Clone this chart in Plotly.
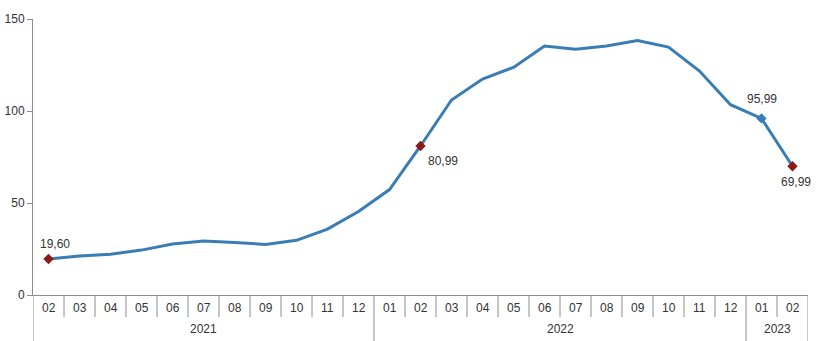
import plotly.graph_objects as go

months = ["02", "03", "04", "05", "06", "07", "08", "09", "10", "11", "12",
          "01", "02", "03", "04", "05", "06", "07", "08", "09", "10", "11", "12",
          "01", "02"]
years = ["2021", "2022", "2023"]
year_counts = [11, 12, 2]
values = [19.60, 21.2, 22.2, 24.4, 27.7, 29.3, 28.6, 27.5, 29.7, 35.8, 45.4,
          57.3, 80.99, 106.0, 117.4, 123.7, 135.3, 133.6, 135.3, 138.3, 134.7,
          121.7, 103.4, 95.99, 69.99]
labeled_idx = [0, 12, 23, 24]
marker_colors = ["#8B1A1A", "#8B1A1A", "#3A7DB5", "#8B1A1A"]
label_shift = [(6, 15), (22, -15), (0, 19), (3, -16)]

line_color = "#3A7DB5"
axis_color = "#8C8C8C"
text_color = "#333333"
font_family = "Liberation Sans, Arial, sans-serif"

x = list(range(len(values)))
fig = go.Figure()
fig.add_trace(go.Scatter(x=x, y=values, mode="lines",
                         line=dict(color=line_color, width=3), hoverinfo="skip"))
fig.add_trace(go.Scatter(x=[x[i] for i in labeled_idx],
                         y=[values[i] for i in labeled_idx], mode="markers",
                         marker=dict(symbol="diamond", size=8, color=marker_colors),
                         hoverinfo="skip"))

annotations = []
for k, i in enumerate(labeled_idx):
    txt = f"{values[i]:.2f}".replace(".", ",")
    dx, dy = label_shift[k]
    annotations.append(dict(x=x[i], y=values[i], xref="x", yref="y", text=txt,
                            showarrow=False, xshift=dx, yshift=dy,
                            font=dict(size=12, color=text_color, family=font_family)))

shapes = []
ph = 276.0
month_bot = -22 / ph
year_bot = -46 / ph
for i, m in enumerate(months):
    annotations.append(dict(x=i, y=-13 / ph, xref="x", yref="paper", text=m,
                            showarrow=False, yanchor="middle",
                            font=dict(size=12, color=text_color, family=font_family)))
boundaries = set()
start = 0
for yr, c in zip(years, year_counts):
    boundaries.add(start)
    mid = start + (c - 1) / 2
    annotations.append(dict(x=mid, y=-34 / ph, xref="x", yref="paper", text=yr,
                            showarrow=False, yanchor="middle",
                            font=dict(size=12, color=text_color, family=font_family)))
    start += c
boundaries.add(start)
for b in range(len(months) + 1):
    yb = year_bot if b in boundaries else month_bot
    shapes.append(dict(type="line", xref="x", yref="paper", x0=b - 0.5, x1=b - 0.5,
                       y0=0, y1=yb, line=dict(color=axis_color, width=1)))

fig.update_layout(
    width=819, height=341,
    margin=dict(l=33, r=11, t=19, b=46, autoexpand=False),
    paper_bgcolor="white", plot_bgcolor="white",
    showlegend=False,
    font=dict(family=font_family, size=12, color=text_color),
    xaxis=dict(range=[-0.5, len(values) - 0.5], showticklabels=False, showgrid=False,
               zeroline=False, showline=True, linecolor=axis_color, linewidth=1,
               ticks="", automargin=False),
    yaxis=dict(range=[0, 150], tickvals=[0, 50, 100, 150], showgrid=False,
               zeroline=False, showline=True, linecolor=axis_color, linewidth=1,
               ticks="outside", ticklen=5, tickcolor=axis_color, automargin=False,
               tickfont=dict(size=12, color=text_color, family=font_family)),
    annotations=annotations,
    shapes=shapes,
)
fig.write_html("out.html")
